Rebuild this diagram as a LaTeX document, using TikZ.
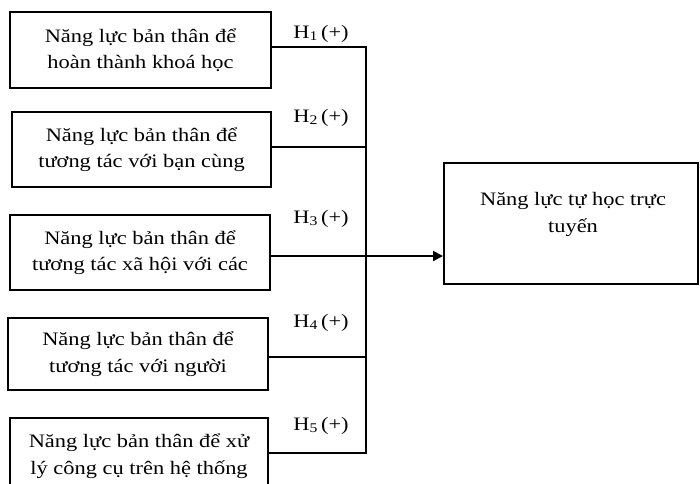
\documentclass[tikz,border=0pt]{standalone}
\usepackage{fontspec}
\setmainfont{Liberation Serif}[FakeStretch=1.18]
\usetikzlibrary{arrows.meta}
\begin{document}
\begin{tikzpicture}[x=1pt,y=-1pt,
  every node/.style={font=\fontsize{19pt}{26.5pt}\selectfont},
  factor/.style={draw, line width=2pt, align=center, inner sep=0pt},
  goalbox/.style={draw, line width=2pt, inner sep=0pt},
  hyp/.style={anchor=base, inner sep=0pt},
  link/.style={line width=2pt},
  flow/.style={line width=2pt, -{Triangle[length=10pt,width=10pt]}}
]
\useasboundingbox (0,0) rectangle (700,483);
\clip (0,0) rectangle (700,483);

% factor boxes on the left
\node[factor, minimum width=261pt, minimum height=76pt] (b1) at (140.5,50)
  {Năng lực bản thân để\\hoàn thành khoá học};
\node[factor, minimum width=259pt, minimum height=75pt] (b2) at (141.5,149.5)
  {Năng lực bản thân để\\tương tác với bạn cùng};
\node[factor, minimum width=260pt, minimum height=75pt] (b3) at (140,252.5)
  {Năng lực bản thân để\\tương tác xã hội với các};
\node[factor, minimum width=260pt, minimum height=72pt] (b4) at (138,354)
  {Năng lực bản thân để\\tương tác với người};
\node[factor, minimum width=258pt, minimum height=76pt] (b5) at (139,456)
  {Năng lực bản thân để xử\\lý công cụ trên hệ thống};

% outcome box on the right
\node[goalbox, minimum width=254pt, minimum height=121pt] (goal) at (571,223.5) {};
\node[anchor=base, align=center] (goaltext) at (573,232)
  {Năng lực tự học trực\\tuyến};

% junction points on the collecting line
\coordinate (j1) at (366,46.5);
\coordinate (j2) at (366,147);
\coordinate (j3) at (366,256);
\coordinate (j4) at (366,357);
\coordinate (j5) at (366,453);

% connectors
\draw[link] (b1.east |- j1) -- (j1);
\draw[link] (b2.east |- j2) -- (j2);
\draw[link] (b3.east |- j3) -- (j3);
\draw[link] (b4.east |- j4) -- (j4);
\draw[link] (b5.east |- j5) -- (j5);
\draw[link, line cap=rect] (j1) -- (j5);
\draw[flow] (j3) -- (goal.west |- j3);

% hypothesis labels
\node[hyp] (h1) at (321,38) {H\textsubscript{1}\,(+)};
\node[hyp] (h2) at (321,122) {H\textsubscript{2}\,(+)};
\node[hyp] (h3) at (321,223) {H\textsubscript{3}\,(+)};
\node[hyp] (h4) at (321,327) {H\textsubscript{4}\,(+)};
\node[hyp] (h5) at (321,430) {H\textsubscript{5}\,(+)};
\end{tikzpicture}
\end{document}
